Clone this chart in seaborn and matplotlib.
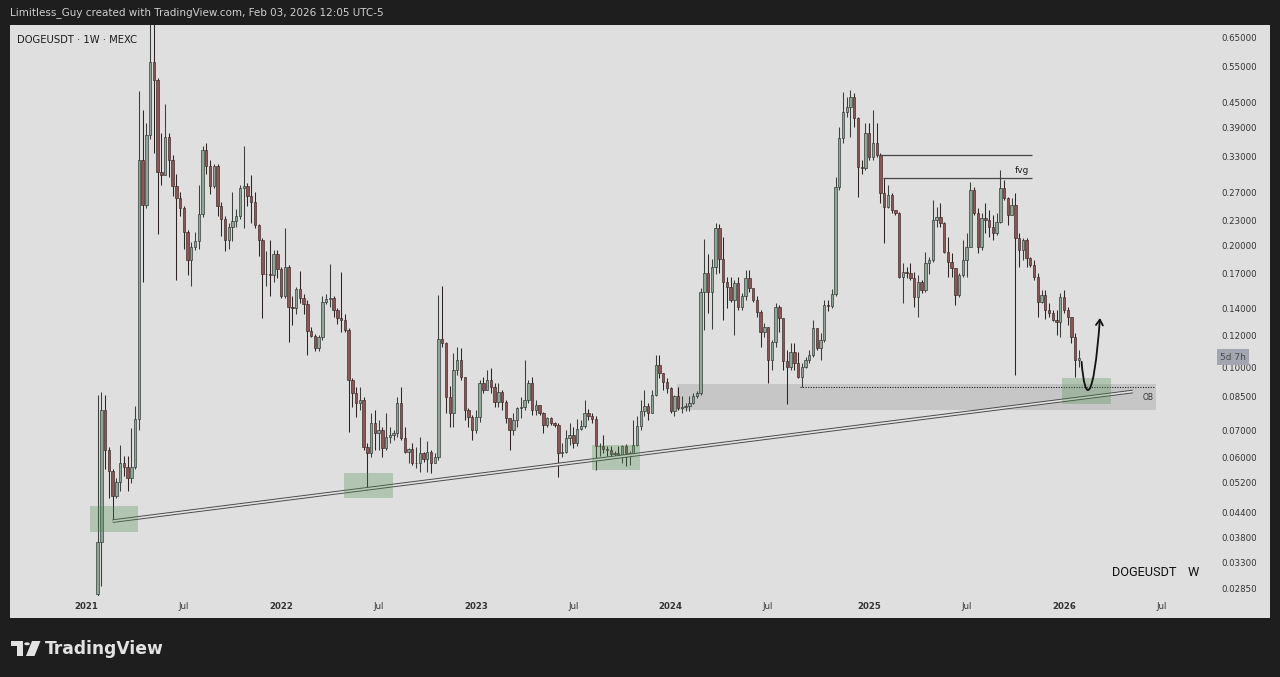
import numpy as np
import pandas as pd
import seaborn as sns
import matplotlib
matplotlib.use("Agg")
import matplotlib.pyplot as plt
import matplotlib.dates as mdates
from matplotlib.patches import Rectangle, FancyArrowPatch, Polygon, Circle
from matplotlib.path import Path
from matplotlib.ticker import NullLocator, NullFormatter

sns.set_theme(style="white")
plt.rcParams['font.family'] = ['DejaVu Sans']

# weekly DOGEUSDT candles, first bar = week of 2021-01-25
first_week = "2021-01-25"
first_open = 0.0277
close = [
    0.0371, 0.0785, 0.0624, 0.0557, 0.0481, 0.0523, 0.0581, 0.0569, 0.0534, 0.0569,
    0.0745, 0.3234, 0.2516, 0.3735, 0.566, 0.510, 0.303, 0.298, 0.370, 0.324,
    0.279, 0.262, 0.2464, 0.2155, 0.184, 0.198, 0.205, 0.2389, 0.3437, 0.313,
    0.279, 0.313, 0.249, 0.2314, 0.2061, 0.222, 0.2287, 0.236, 0.276, 0.279,
    0.265, 0.255, 0.224, 0.206, 0.1694, 0.170, 0.169, 0.190, 0.1748, 0.1495,
    0.1767, 0.1405, 0.140, 0.1559, 0.148, 0.143, 0.1227, 0.1196, 0.1118, 0.119,
    0.145, 0.1475, 0.148, 0.1384, 0.132, 0.131, 0.1236, 0.0931, 0.0863, 0.0815,
    0.0831, 0.0638, 0.0614, 0.0728, 0.0688, 0.0701, 0.0632, 0.0675, 0.068, 0.069,
    0.0815, 0.0668, 0.062, 0.063, 0.058, 0.0582, 0.0614, 0.0595, 0.0618, 0.058,
    0.0603, 0.1172, 0.1145, 0.0847, 0.077, 0.0985, 0.1043, 0.0948, 0.0785, 0.0756,
    0.0701, 0.0756, 0.0913, 0.0879, 0.0931, 0.0896, 0.0823, 0.087, 0.0823, 0.0749,
    0.0701, 0.0742, 0.0792, 0.080, 0.0831, 0.0913, 0.0785, 0.0807, 0.077, 0.0721,
    0.0749, 0.0728, 0.0721, 0.0614, 0.062, 0.0668, 0.0682, 0.065, 0.0705, 0.0716,
    0.077, 0.0757, 0.0746, 0.0639, 0.064, 0.063, 0.0627, 0.061, 0.0614, 0.0607,
    0.0639, 0.0604, 0.0616, 0.0645, 0.0716, 0.0779, 0.0801, 0.0772, 0.0856, 0.1014,
    0.0967, 0.0922, 0.0888, 0.0779, 0.0848, 0.0794, 0.080, 0.0805, 0.0816, 0.0848,
    0.0864, 0.1536, 0.1705, 0.1536, 0.1769, 0.220, 0.1845, 0.1626, 0.158, 0.1465,
    0.161, 0.1411, 0.1495, 0.1659, 0.1566, 0.1465, 0.1372, 0.1224, 0.1259, 0.1043,
    0.1157, 0.1411, 0.132, 0.1034, 0.1004, 0.1094, 0.1024, 0.0949, 0.1004, 0.1043,
    0.1073, 0.1247, 0.1115, 0.1168, 0.1425, 0.142, 0.152, 0.2786, 0.3665, 0.4264,
    0.4386, 0.4643, 0.4105, 0.3121, 0.309, 0.3771, 0.3303, 0.3563, 0.3334, 0.2683,
    0.2487, 0.2658, 0.2441, 0.2395, 0.1672, 0.172, 0.1704, 0.1656, 0.1493, 0.1625,
    0.155, 0.1803, 0.1838, 0.2306, 0.235, 0.2263, 0.1927, 0.182, 0.1753, 0.1507,
    0.1688, 0.1838, 0.1983, 0.2734, 0.2395, 0.1983, 0.2328, 0.2306, 0.2218, 0.2138,
    0.2284, 0.276, 0.2608, 0.2373, 0.251, 0.2078, 0.1945, 0.2059, 0.1855, 0.1787,
    0.1672, 0.1451, 0.1507, 0.1384, 0.1358, 0.1308, 0.129, 0.1493, 0.1384, 0.1333,
    0.119, 0.1042, 0.1055]
high = [
    0.0854, 0.0871, 0.0854, 0.0637, 0.0563, 0.0534, 0.0644, 0.0605, 0.0605, 0.0708,
    0.0802, 0.4793, 0.4314, 0.3987, 0.740, 0.710, 0.515, 0.377, 0.446, 0.377,
    0.333, 0.300, 0.270, 0.250, 0.218, 0.204, 0.215, 0.282, 0.350, 0.357,
    0.325, 0.316, 0.316, 0.256, 0.236, 0.227, 0.270, 0.246, 0.282, 0.350,
    0.285, 0.297, 0.270, 0.225, 0.208, 0.194, 0.206, 0.195, 0.195, 0.177,
    0.220, 0.179, 0.150, 0.158, 0.173, 0.152, 0.1465, 0.1254, 0.121, 0.120,
    0.1495, 0.152, 0.180, 0.150, 0.140, 0.172, 0.1357, 0.125, 0.094, 0.0896,
    0.0896, 0.0845, 0.065, 0.077, 0.0785, 0.0742, 0.0714, 0.077, 0.0714, 0.0701,
    0.0847, 0.0896, 0.0714, 0.0632, 0.065, 0.0638, 0.0675, 0.062, 0.066, 0.0625,
    0.0614, 0.1509, 0.1584, 0.1155, 0.090, 0.1083, 0.1124, 0.1114, 0.0948, 0.0792,
    0.0763, 0.0785, 0.0931, 0.0948, 0.0985, 0.0995, 0.0913, 0.0913, 0.0879, 0.0831,
    0.0749, 0.077, 0.080, 0.0847, 0.1043, 0.0931, 0.0948, 0.0831, 0.0807, 0.0777,
    0.0756, 0.0756, 0.0735, 0.0728, 0.065, 0.0701, 0.0728, 0.0714, 0.0745, 0.0743,
    0.0832, 0.079, 0.0772, 0.076, 0.0651, 0.0682, 0.0641, 0.0639, 0.0622, 0.0639,
    0.0645, 0.0648, 0.0622, 0.0743, 0.0757, 0.0832, 0.088, 0.0816, 0.088, 0.1073,
    0.1073, 0.0967, 0.094, 0.0897, 0.0856, 0.0897, 0.0848, 0.0816, 0.0848, 0.0864,
    0.0872, 0.1566, 0.2066, 0.1906, 0.1845, 0.2263, 0.226, 0.2098, 0.1674, 0.1674,
    0.1643, 0.1674, 0.1523, 0.1737, 0.1737, 0.1566, 0.1495, 0.1385, 0.1283, 0.1259,
    0.1168, 0.1438, 0.1425, 0.132, 0.1104, 0.1146, 0.1146, 0.1094, 0.1024, 0.1063,
    0.1104, 0.1307, 0.1247, 0.1212, 0.1465, 0.1465, 0.156, 0.2949, 0.3916, 0.4776,
    0.4643, 0.4822, 0.473, 0.4145, 0.3242, 0.3991, 0.3991, 0.4304, 0.3991, 0.3366,
    0.292, 0.2813, 0.2683, 0.2441, 0.2418, 0.1803, 0.177, 0.1803, 0.172, 0.1688,
    0.1641, 0.1927, 0.1873, 0.2583, 0.2487, 0.2535, 0.2284, 0.2098, 0.1909, 0.1753,
    0.1704, 0.2059, 0.2138, 0.2866, 0.2786, 0.2464, 0.2395, 0.2535, 0.2441, 0.2373,
    0.2395, 0.3063, 0.2894, 0.2633, 0.2609, 0.2683, 0.2138, 0.2078, 0.2078, 0.1873,
    0.1838, 0.1704, 0.155, 0.155, 0.1437, 0.1384, 0.1384, 0.1521, 0.155, 0.141,
    0.1333, 0.1212, 0.1103]
low = [
    0.0075, 0.0289, 0.0563, 0.0477, 0.0418, 0.0477, 0.0497, 0.0540, 0.0497, 0.0518,
    0.0563, 0.0700, 0.1625, 0.2464, 0.365, 0.337, 0.213, 0.282, 0.297, 0.295,
    0.265, 0.1645, 0.236, 0.196, 0.169, 0.159, 0.195, 0.196, 0.235, 0.300,
    0.268, 0.276, 0.236, 0.211, 0.194, 0.196, 0.205, 0.222, 0.232, 0.220,
    0.250, 0.227, 0.220, 0.188, 0.132, 0.159, 0.150, 0.1625, 0.166, 0.148,
    0.148, 0.1155, 0.127, 0.135, 0.144, 0.135, 0.1072, 0.1185, 0.110, 0.110,
    0.117, 0.143, 0.1405, 0.133, 0.128, 0.1223, 0.1223, 0.0694, 0.080, 0.0756,
    0.0785, 0.0626, 0.0498, 0.060, 0.0626, 0.0626, 0.0603, 0.0626, 0.065, 0.0662,
    0.0675, 0.0662, 0.0614, 0.058, 0.0575, 0.0564, 0.0553, 0.0585, 0.0553, 0.0548,
    0.058, 0.0591, 0.112, 0.077, 0.0714, 0.0714, 0.0958, 0.0931, 0.0742, 0.0714,
    0.0662, 0.0688, 0.0735, 0.0863, 0.0879, 0.0863, 0.080, 0.080, 0.0785, 0.0728,
    0.0626, 0.0682, 0.0714, 0.0749, 0.0785, 0.0815, 0.0763, 0.0763, 0.0763, 0.0688,
    0.0714, 0.0721, 0.0714, 0.0538, 0.060, 0.0614, 0.0644, 0.0632, 0.064, 0.070,
    0.0708, 0.074, 0.0729, 0.056, 0.0604, 0.0616, 0.0604, 0.0599, 0.0599, 0.060,
    0.0582, 0.0571, 0.0576, 0.061, 0.064, 0.0702, 0.076, 0.0743, 0.077, 0.085,
    0.094, 0.088, 0.0864, 0.0772, 0.076, 0.0786, 0.0772, 0.0779, 0.0779, 0.081,
    0.084, 0.0856, 0.1236, 0.136, 0.124, 0.170, 0.1705, 0.1307, 0.140, 0.145,
    0.120, 0.1385, 0.1385, 0.1465, 0.1537, 0.1452, 0.1332, 0.1125, 0.119, 0.0914,
    0.0986, 0.1125, 0.1224, 0.0985, 0.0812, 0.0986, 0.0986, 0.094, 0.0895, 0.0995,
    0.1024, 0.1063, 0.1104, 0.1043, 0.1157, 0.138, 0.140, 0.150, 0.2734, 0.3563,
    0.4145, 0.370, 0.390, 0.2633, 0.300, 0.3063, 0.3242, 0.3242, 0.3303, 0.2535,
    0.202, 0.2464, 0.2395, 0.2372, 0.1656, 0.1437, 0.1656, 0.1641, 0.141, 0.1333,
    0.1521, 0.1535, 0.170, 0.182, 0.2221, 0.2221, 0.1909, 0.1672, 0.1672, 0.1423,
    0.1493, 0.1672, 0.1672, 0.1983, 0.2372, 0.1909, 0.1945, 0.2138, 0.2098, 0.2059,
    0.2118, 0.2263, 0.2583, 0.2242, 0.2373, 0.0957, 0.177, 0.1838, 0.177, 0.177,
    0.1641, 0.1333, 0.1437, 0.1316, 0.1333, 0.1300, 0.120, 0.119, 0.1358, 0.1271,
    0.1145, 0.0948, 0.1004]

price_ticks = [0.65, 0.55, 0.45, 0.39, 0.33, 0.27, 0.23, 0.20, 0.17, 0.14, 0.12,
               0.10, 0.085, 0.07, 0.06, 0.052, 0.044, 0.038, 0.033, 0.0285]
time_ticks = ["2021-01-04", "2021-07-05", "2022-01-03", "2022-07-04", "2023-01-02",
              "2023-07-03", "2024-01-01", "2024-07-01", "2025-01-06", "2025-07-07",
              "2026-01-05", "2026-07-06"]
time_labels = ["2021", "Jul", "2022", "Jul", "2023", "Jul", "2024", "Jul", "2025",
               "Jul", "2026", "Jul"]

# drawings (week offsets from first bar, prices)
green_zones = [(-2.1, 10.8, 0.0393, 0.0455), (65.8, 78.8, 0.0476, 0.0550),
               (131.9, 144.8, 0.0558, 0.0644), (257.6, 270.6, 0.0812, 0.0939)]
ob_zone = (154.6, 282.5, 0.0786, 0.0909)
trend = [(4.0, 0.0418), (276.4, 0.0872)]
fvg_top, fvg_bottom = 0.333, 0.292
bos_level = 0.0893

BG = "#dfdfdf"
UP_BODY, UP_EDGE, UP_WICK = "#90a698", "#27302a", "#3a3f3b"
DN_BODY, DN_EDGE, DN_WICK = "#8a5656", "#3a2323", "#2e2424"

W, H = 1280, 677
fig = plt.figure(figsize=(W / 100, H / 100), dpi=100)
fig.patch.set_facecolor("#1e1e1e")


def fx(px):
    return px / W


def fy(py):
    return 1 - py / H


t0 = mdates.date2num(pd.Timestamp(first_week))


def wk(n):
    return t0 + 7 * np.asarray(n, dtype=float)


fig.patches.append(Rectangle((fx(10), fy(618)), fx(1260), fy(25) - fy(618),
                             transform=fig.transFigure, facecolor=BG,
                             edgecolor="none", zorder=-5))
ax = fig.add_axes([fx(10), fy(596), fx(1260), fy(25) - fy(596)])
ax.set_zorder(1)
ax.set_facecolor(BG)
for s in ax.spines.values():
    s.set_visible(False)
ax.set_yscale("log")
ax.set_ylim(0.02734, 0.697)
ax.set_xlim(wk(-23.4), wk(313.0))

# candles
c = np.array(close)
o = np.array([first_open] + close[:-1])
x = mdates.date2num(pd.date_range(first_week, periods=len(c), freq="7D"))
up = c >= o
ax.vlines(x, low, high, colors=np.where(up, UP_WICK, DN_WICK), linewidth=0.75, zorder=3)
ax.bar(x, np.abs(c - o), bottom=np.minimum(o, c), width=7 * 0.64,
       color=np.where(up, UP_BODY, DN_BODY), edgecolor=np.where(up, UP_EDGE, DN_EDGE),
       linewidth=0.45, zorder=4)

# order block + dotted low
a, b, lo, hi = ob_zone
ax.add_patch(Rectangle((wk(a), lo), wk(b) - wk(a), hi - lo, facecolor="#9a9a9a",
                       alpha=0.35, edgecolor="none", zorder=1))
ax.hlines(bos_level, wk(187.6), wk(282.3), colors="#222222", linestyles=(0, (1, 1.3)),
          linewidth=0.8, zorder=2)
ax.text(wk(280.4), 0.0845, "OB", fontsize=5.5, color="#333333", ha="center", va="center",
        zorder=6)

# trend line (double line look)
tx = [wk(p[0]) for p in trend]
ty = [p[1] for p in trend]
ax.plot(tx, ty, color="#4a4a4a", linewidth=2.6, solid_capstyle="butt", zorder=5)
ax.plot(tx, ty, color="#e4e4e4", linewidth=1.2, solid_capstyle="butt", zorder=5)

for a, b, lo, hi in green_zones:
    ax.add_patch(Rectangle((wk(a), lo), wk(b) - wk(a), hi - lo, facecolor="#4c8c4c",
                           alpha=0.3, edgecolor="none", zorder=6))

# fvg lines
ax.hlines(fvg_top, wk(208.8), wk(249.4), colors="#444444", linewidth=0.9, zorder=6)
ax.hlines(fvg_bottom, wk(209.6), wk(249.4), colors="#444444", linewidth=0.9, zorder=6)
ax.text(wk(246.7), 0.306, "fvg", fontsize=6.5, color="#222222", ha="center",
        va="center", zorder=6)

# projected path arrow
path = Path([(wk(262.7), 0.1032), (wk(263.6), 0.0809), (wk(265.9), 0.0809),
             (wk(267.6), 0.1323)],
            [Path.MOVETO, Path.CURVE4, Path.CURVE4, Path.CURVE4])
ax.add_patch(FancyArrowPatch(path=path, arrowstyle="->,head_length=4,head_width=2.5",
                             color="#111111", linewidth=1.3, zorder=7))

# axes ticks
ax.yaxis.tick_right()
ax.set_yticks(price_ticks)
ax.set_yticklabels([f"{t:.5f}" for t in price_ticks])
ax.yaxis.set_minor_locator(NullLocator())
ax.yaxis.set_minor_formatter(NullFormatter())
ax.tick_params(axis="y", which="both", length=0, pad=-35, labelsize=6.2,
               labelcolor="#333333")
ax.set_xticks(mdates.date2num(pd.to_datetime(time_ticks)))
ax.set_xticklabels(time_labels)
ax.tick_params(axis="x", length=0, pad=4.5, labelsize=6.2, labelcolor="#333333")
for lbl in ax.get_xticklabels():
    if lbl.get_text() != "Jul":
        lbl.set_fontweight("bold")
ax.grid(False)

ax.text((1233 - 10) / 1260, (596 - 357) / 571, "5d 7h", transform=ax.transAxes,
        fontsize=6.5, color="#4a4a4a", ha="center", va="center",
        bbox=dict(boxstyle="square,pad=0.35", facecolor="#a3a6b0", edgecolor="none"))
ax.text((1112 - 10) / 1260, (596 - 572) / 571, "DOGEUSDT", transform=ax.transAxes,
        fontsize=9.2, family=["Roboto", "DejaVu Sans"], color="#111111", ha="left",
        va="center")
ax.text((1188 - 10) / 1260, (596 - 572) / 571, "W", transform=ax.transAxes,
        fontsize=9.2, family=["Roboto", "DejaVu Sans"], color="#111111", ha="left",
        va="center")

# header / footer
fig.text(fx(10), fy(13), "Limitless_Guy created with TradingView.com, Feb 03, 2026 12:05 UTC-5",
         fontsize=7.45, color="#cfcfcf", ha="left", va="center")
fig.text(fx(17), fy(40), "DOGEUSDT · 1W · MEXC", fontsize=7.2, color="#1a1a1a",
         ha="left", va="center", zorder=5)

logo = "#e2e2e2"
fig.patches.append(Polygon([(fx(11), fy(641)), (fx(22.5), fy(641)), (fx(22.5), fy(656)),
                            (fx(17), fy(656)), (fx(17), fy(646)), (fx(11), fy(646))],
                           closed=True, transform=fig.transFigure, facecolor=logo,
                           edgecolor="none"))
fig.patches.append(Circle((fx(27), fy(643.8)), fx(2.8), transform=fig.transFigure,
                          facecolor=logo, edgecolor="none"))
fig.patches.append(Polygon([(fx(32), fy(641)), (fx(40.5), fy(641)), (fx(34.5), fy(656)),
                            (fx(26), fy(656))], closed=True, transform=fig.transFigure,
                           facecolor=logo, edgecolor="none"))
fig.text(fx(45), fy(648.5), "TradingView", fontsize=12.3, fontweight="bold", color=logo,
         ha="left", va="center")

fig.savefig("out.png", dpi=100, facecolor=fig.get_facecolor())
